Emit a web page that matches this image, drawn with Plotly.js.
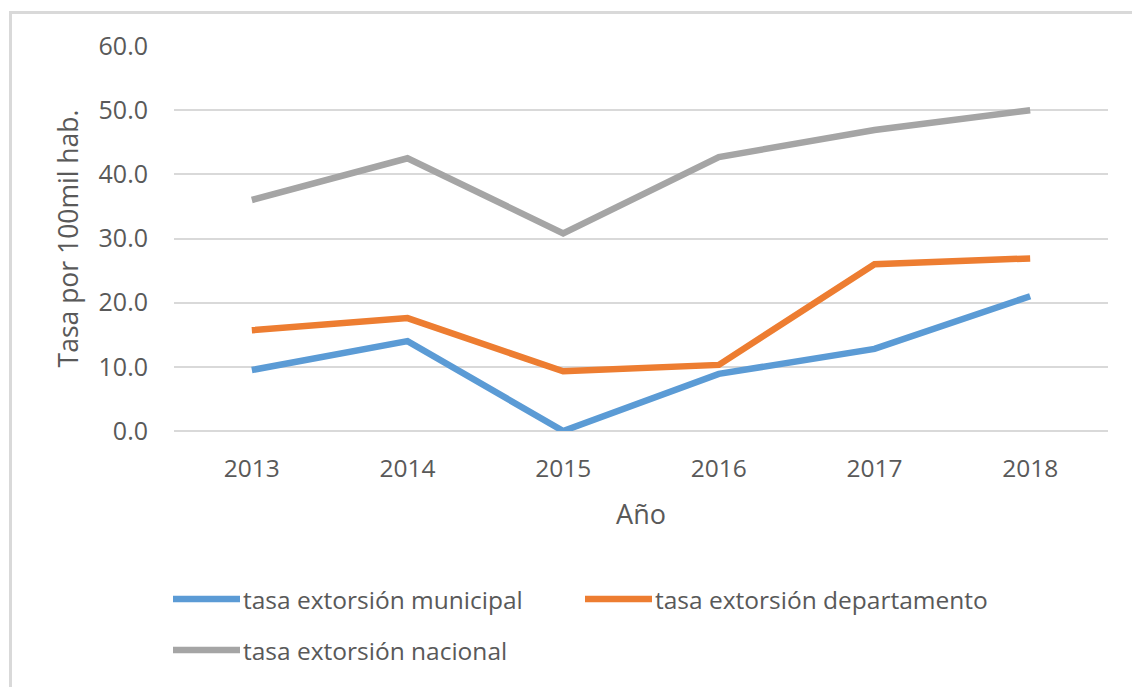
<!DOCTYPE html>
<html>
<head>
<meta charset="utf-8">
<script src="https://cdn.plot.ly/plotly-3.0.1.min.js"></script>
<style>
  body { margin: 0; background: #fff; }
  #frame { position: absolute; left: 9px; top: 11px; width: 1200px; height: 800px;
           border-left: 3px solid #d9d9d9; border-top: 3px solid #d9d9d9; pointer-events: none; }
</style>
</head>
<body>
<div id="myDiv" style="width:1132px;height:687px;"></div>
<div id="frame"></div>
<script>
//---------------------- DATA ---------------------------
var years = ['2013', '2014', '2015', '2016', '2017', '2018'];
var municipal = [9.5, 14.0, 0.0, 8.9, 12.8, 21.0];
var departamento = [15.7, 17.6, 9.3, 10.3, 26.0, 26.9];
var nacional = [36.0, 42.5, 30.8, 42.7, 46.9, 50.0];

var names = ['tasa extorsión municipal', 'tasa extorsión departamento', 'tasa extorsión nacional'];
var colors = ['#5b9bd5', '#ed7d31', '#a5a5a5'];
var series = [municipal, departamento, nacional];

var txt = '#595959';
var font = 'Open Sans, sans-serif';

var data = [];
for (var i = 0; i < series.length; i++) {
  data.push({
    x: years,
    y: series[i],
    name: names[i],
    type: 'scatter',
    mode: 'lines',
    line: {width: 6.5, color: colors[i]},
    hoverinfo: 'name+y'
  });
}

//---------------------- LEGEND (keys drawn as shapes) ---------------------------
// plot area: x 174..1108 px, y 46..431 px
function px(x) { return (x - 174) / 934; }
function py(y) { return (431 - y) / 385; }
var legendPos = [[173, 599], [585, 599], [173, 650]];
var shapes = [];
var annotations = [];
for (var j = 0; j < names.length; j++) {
  var p = legendPos[j];
  shapes.push({
    type: 'line', xref: 'paper', yref: 'paper',
    x0: px(p[0]), x1: px(p[0] + 67), y0: py(p[1]), y1: py(p[1]),
    line: {color: colors[j], width: 6.5}
  });
  annotations.push({
    xref: 'paper', yref: 'paper', x: px(p[0] + 68), y: py(p[1]),
    xanchor: 'left', yanchor: 'middle', showarrow: false,
    text: names[j], font: {family: font, size: 24.5, color: txt}
  });
}

var layout = {
  width: 1132,
  height: 687,
  margin: {l: 174, r: 24, t: 46, b: 256},
  paper_bgcolor: 'rgba(0,0,0,0)',
  plot_bgcolor: 'rgba(0,0,0,0)',
  showlegend: false,
  font: {family: font, size: 24, color: txt},
  xaxis: {
    type: 'category',
    range: [-0.5, 5.5],
    title: {text: 'Año', font: {family: font, size: 27, color: txt}, standoff: 22},
    showgrid: false,
    showline: false,
    zeroline: false,
    ticks: '',
    ticklabelstandoff: 20,
    tickfont: {family: font, size: 24.5, color: txt},
    automargin: false
  },
  yaxis: {
    range: [0, 60],
    dtick: 10,
    tickformat: '.1f',
    title: {text: 'Tasa por 100mil hab.', font: {family: font, size: 26.5, color: txt}, standoff: 12},
    gridcolor: '#d9d9d9',
    gridwidth: 2,
    zeroline: true,
    zerolinecolor: '#d9d9d9',
    zerolinewidth: 2,
    showline: false,
    ticks: '',
    ticklabelstandoff: 25,
    tickfont: {family: font, size: 25, color: txt},
    automargin: false
  },
  shapes: shapes,
  annotations: annotations
};

Plotly.newPlot('myDiv', data, layout, {displayModeBar: false});
</script>
</body>
</html>
